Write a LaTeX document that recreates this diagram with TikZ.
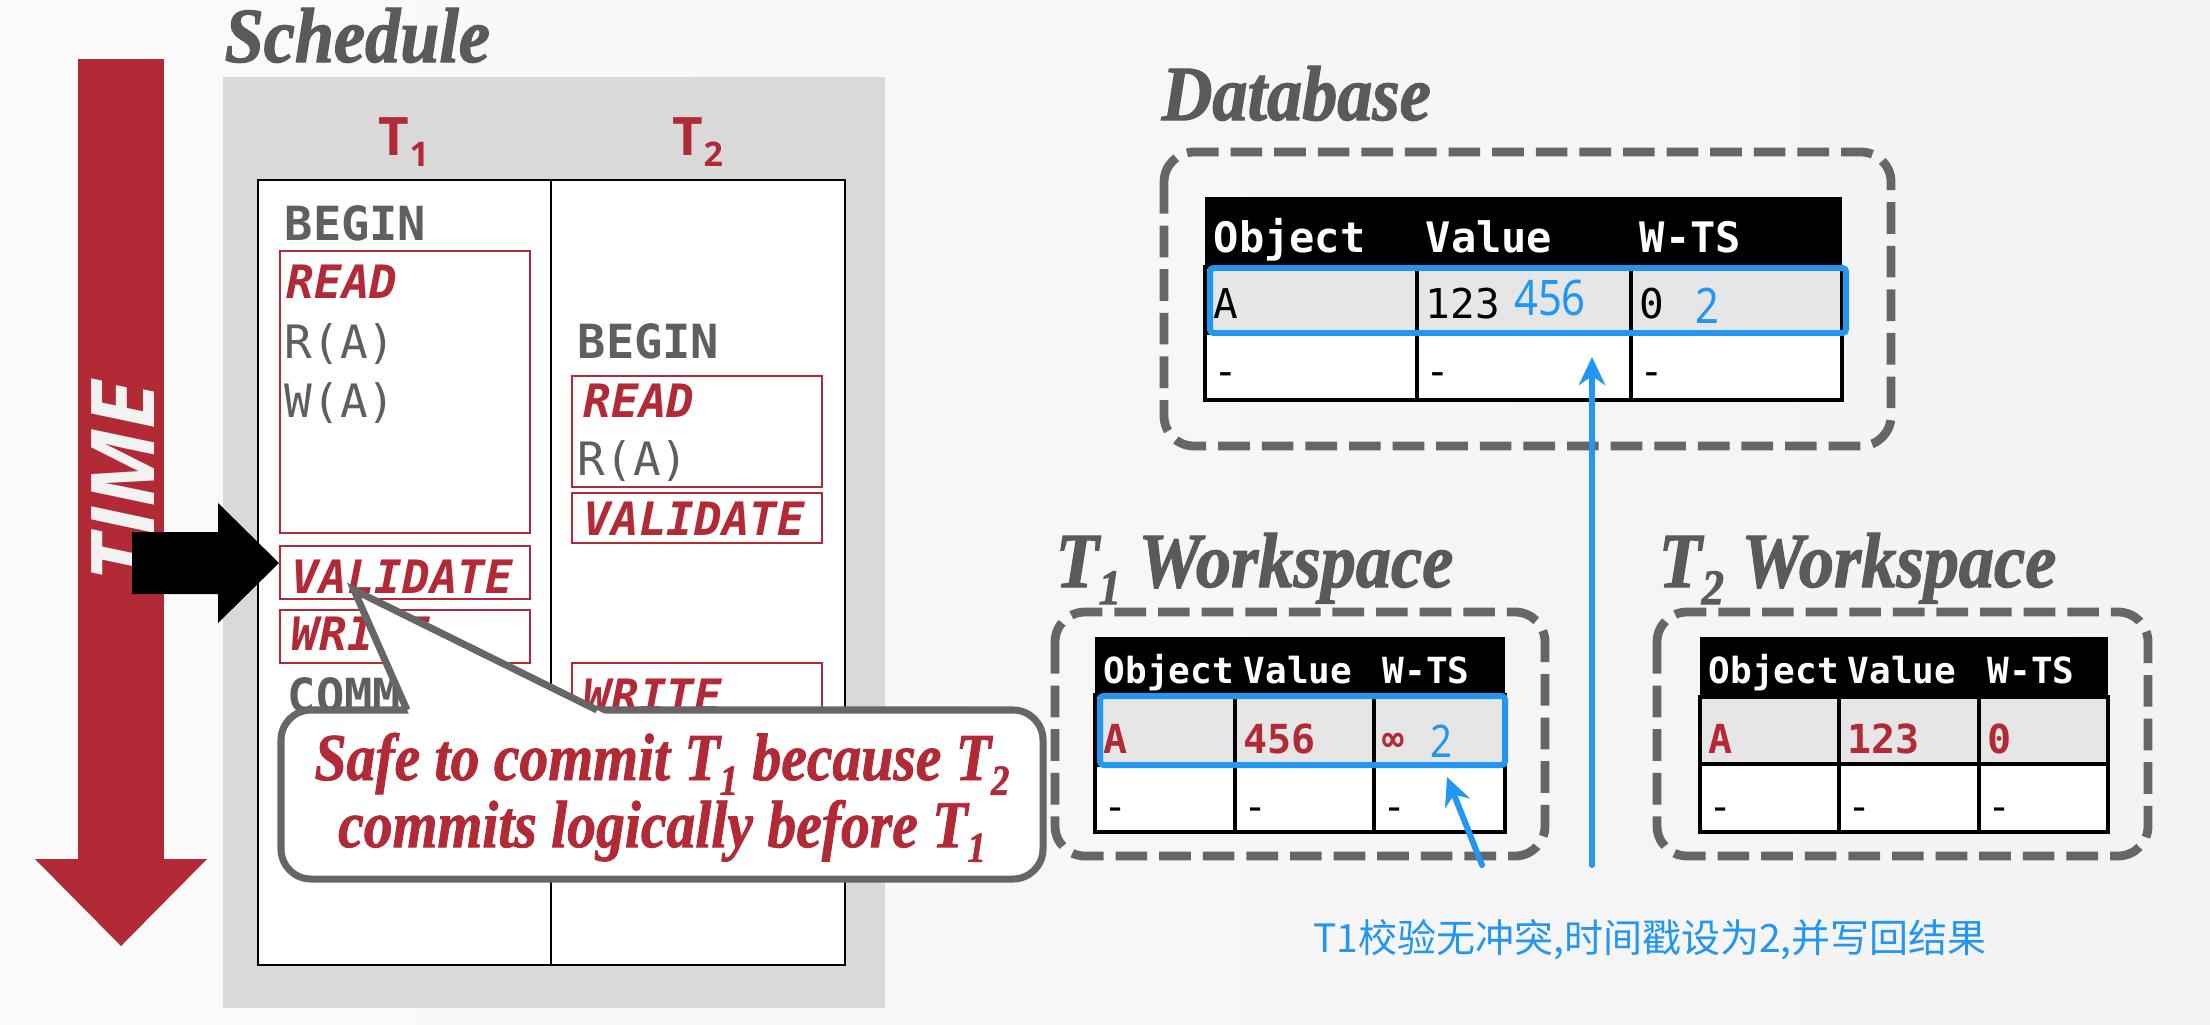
\documentclass[tikz,border=0pt]{standalone}
\usepackage{fontspec}
\usepackage{graphicx}
\usetikzlibrary{arrows.meta}
\setmonofont{DejaVu Sans Mono}[BoldFont={DejaVu Sans Mono Bold},ItalicFont={DejaVu Sans Mono Oblique},BoldItalicFont={DejaVu Sans Mono Bold Oblique}]
\newfontfamily\titlefont[FakeStretch=0.9,FakeBold=1.5]{Liberation Serif}
\newfontfamily\notefont[FakeStretch=0.86,FakeBold=1.2]{Liberation Serif}
\newfontfamily\labelfont{Open Sans}
\newfontfamily\numfont[FakeStretch=0.85]{Noto Sans}
\newfontfamily\cjkfont{Noto Sans CJK SC}
\definecolor{cmured}{RGB}{178,42,54}
\definecolor{textgray}{RGB}{95,95,95}
\definecolor{titlegray}{RGB}{90,90,90}
\definecolor{boxgray}{RGB}{217,217,217}
\definecolor{dashgray}{RGB}{102,102,102}
\definecolor{rowgray}{RGB}{230,230,230}
\definecolor{noteblue}{RGB}{33,150,243}
\definecolor{timewhite}{RGB}{242,242,242}
\definecolor{bgleft}{RGB}{251,251,251}
\definecolor{bgright}{RGB}{243,243,243}
% font size in pixels of the picture
\newcommand\px[1]{\fontsize{\dimexpr #1pt*2845/10000\relax}{\dimexpr #1pt*3414/10000\relax}\selectfont}
\newcommand\tsub[1]{\raisebox{-.22em}{\scalebox{.64}{#1}}}
\tikzset{
  heading/.style={anchor=base west, inner sep=0pt, text=titlegray, font=\titlefont\bfseries\itshape\px{78}},
  txnlabel/.style={anchor=base, inner sep=0pt, text=cmured, font=\labelfont\bfseries\px{53}},
  redbox/.style={draw=cmured, line width=0.7pt},
  optext/.style={anchor=base west, inner sep=0pt, text=textgray, font=\ttfamily\px{46}},
  opbold/.style={anchor=base west, inner sep=0pt, text=textgray, font=\ttfamily\bfseries\px{47}},
  phase/.style={anchor=base west, inner sep=0pt, text=cmured, font=\ttfamily\bfseries\itshape\px{46}},
  notetext/.style={anchor=base, inner sep=0pt, text=cmured, font=\notefont\bfseries\itshape\px{67}},
  callout/.style={draw=dashgray, fill=white, line width=2pt, rounded corners=0.3cm},
  dashbox/.style={draw=dashgray, line width=2.5pt, dash pattern=on 9pt off 3.4pt, rounded corners=0.3cm},
  cell/.style={draw=black, line width=0.9pt},
  dbhead/.style={anchor=base west, inner sep=0pt, text=white, font=\ttfamily\bfseries\px{42}},
  dbcell/.style={anchor=base west, inner sep=0pt, text=black, font=\ttfamily\px{41}},
  wshead/.style={anchor=base west, inner sep=0pt, text=white, font=\ttfamily\bfseries\px{36}},
  wscell/.style={anchor=base west, inner sep=0pt, text=cmured, font=\ttfamily\bfseries\px{40}},
  wsdash/.style={anchor=base west, inner sep=0pt, text=black, font=\ttfamily\px{40}},
  hilite/.style={draw=noteblue, line width=1.7pt, rounded corners=1pt},
  bluenum/.style={inner sep=0pt, text=noteblue, font=\numfont\px{#1}},
  bluearrow/.style={draw=noteblue, line width=1.7pt, line cap=round, -{Stealth[length=8pt,width=7.5pt]}},
}

\begin{document}
\begin{tikzpicture}[x=0.01cm,y=-0.01cm]
  \useasboundingbox (0,0) rectangle (2210,1024);
  \shade[left color=bgleft, right color=bgright] (0,0) rectangle (2210,1024);

  % Time arrow
  \fill[cmured] (78,59) rectangle (164,860);
  \fill[cmured] (35,859) -- (207,859) -- (121,946) -- cycle;
  \node[rotate=90, inner sep=0pt, text=timewhite, font=\labelfont\bfseries\itshape\px{88}] (time) at (123,482) {TIME};

  % Schedule
  \node[heading] (sched) at (224,62) {Schedule};
  \fill[boxgray] (223,77) rectangle (885,1008);
  \node[txnlabel] (t1) at (404,155) {T\tsub{1}};
  \node[txnlabel] (t2) at (698,155) {T\tsub{2}};
  \draw[fill=white, line width=0.8pt] (258,180) rectangle (845,965);
  \draw[line width=0.8pt] (551,180) -- (551,965);

  % T1 column
  \draw[redbox] (280,251) rectangle (530,533);
  \draw[redbox] (280,546) rectangle (530,599);
  \draw[redbox] (280,610) rectangle (530,663);
  \node[opbold] (begin1) at (284,240) {BEGIN};
  \node[phase] (read1) at (286,298) {READ};
  \node[optext] (ra1) at (284,358) {R(A)};
  \node[optext] (wa1) at (284,417) {W(A)};
  \node[phase] (val1) at (291,593) {VALIDATE};
  \node[phase] (write1) at (291,650) {WRITE};
  \node[opbold] (commit1) at (287,712) {COMMIT};

  % T2 column
  \draw[redbox] (572,376) rectangle (822,487);
  \draw[redbox] (572,493) rectangle (822,543);
  \draw[redbox] (572,663) rectangle (822,716);
  \node[opbold] (begin2) at (577,358) {BEGIN};
  \node[phase] (read2) at (583,417) {READ};
  \node[optext] (ra2) at (577,475) {R(A)};
  \node[phase] (val2) at (583,535) {VALIDATE};
  \node[phase] (write2) at (583,712) {WRITE};

  % Current step marker
  \fill[black] (132,532) -- (218,532) -- (218,503) -- (279,563) -- (218,623) -- (218,594) -- (132,594) -- cycle;

  % Callout
  \coordinate (tip) at (354,590);
  \draw[callout] (281,710) rectangle (1043,879);
  \fill[white] (tip) -- (409,714) -- (605,714) -- cycle;
  \draw[dashgray, line width=2pt] (407,710) -- (tip) -- (597,710);
  \node[notetext] (note) at (662,780) {\vtop{\baselineskip=19.1pt\lineskiplimit=-100pt
    \hbox to 7.2cm{\hss Safe to commit T\tsub{1} because T\tsub{2}\hss}
    \hbox to 7.2cm{\hss commits logically before T\tsub{1}\hss}}};

  % Database
  \node[heading] (dbtitle) at (1161,120) {Database};
  \draw[dashbox] (1164,152) rectangle (1891,446);
  \fill[black] (1205,197) rectangle (1842,267);
  \draw[cell, fill=rowgray] (1205,267) rectangle (1842,333);
  \draw[cell, fill=white] (1205,333) rectangle (1842,400);
  \draw[cell] (1417,267) -- (1417,400) (1631,267) -- (1631,400);
  \node[dbhead] (dbobj) at (1213,252) {Object};
  \node[dbhead] (dbval) at (1425,252) {Value};
  \node[dbhead] (dbwts) at (1639,252) {W-TS};
  \node[dbcell] (dba) at (1213,318) {A};
  \node[dbcell] (dbold) at (1425,318) {123};
  \node[dbcell] (dbts) at (1639,318) {0};
  \node[dbcell] (dbd1) at (1213,385) {-};
  \node[dbcell] (dbd2) at (1425,385) {-};
  \node[dbcell] (dbd3) at (1639,385) {-};
  \draw[hilite] (1210,268) rectangle (1846,333);
  \node[bluenum=49] (dbnew) at (1550,298) {456};
  \node[bluenum=49] (dbnewts) at (1707,306) {2};

  % T1 workspace
  \node[heading] (ws1title) at (1055,587) {T\tsub{1} Workspace};
  \draw[dashbox] (1055,612) rectangle (1545,856);
  \fill[black] (1095,637) rectangle (1505,695);
  \draw[cell, fill=rowgray] (1095,695) rectangle (1505,765);
  \draw[cell, fill=white] (1095,765) rectangle (1505,832);
  \draw[cell] (1235,695) -- (1235,832) (1374,695) -- (1374,832);
  \node[wshead] (ws1obj) at (1103,683) {Object};
  \node[wshead] (ws1val) at (1243,683) {Value};
  \node[wshead] (ws1wts) at (1382,683) {W-TS};
  \node[wscell] (ws1a) at (1103,753) {A};
  \node[wscell] (ws1v) at (1243,753) {456};
  \node[wscell, font=\ttfamily\bfseries\px{36}] (ws1inf) at (1382,751) {∞};
  \node[wsdash] (ws1d1) at (1103,820) {-};
  \node[wsdash] (ws1d2) at (1243,820) {-};
  \node[wsdash] (ws1d3) at (1382,820) {-};
  \draw[hilite] (1100,696) rectangle (1505,765);
  \node[bluenum=45] (ws1ts) at (1441,741) {2};

  % T2 workspace
  \node[heading] (ws2title) at (1658,587) {T\tsub{2} Workspace};
  \draw[dashbox] (1657,612) rectangle (2148,856);
  \fill[black] (1700,637) rectangle (2108,697);
  \draw[cell, fill=rowgray] (1700,697) rectangle (2108,764);
  \draw[cell, fill=white] (1700,764) rectangle (2108,832);
  \draw[cell] (1839,697) -- (1839,832) (1979,697) -- (1979,832);
  \node[wshead] (ws2obj) at (1708,683) {Object};
  \node[wshead] (ws2val) at (1847,683) {Value};
  \node[wshead] (ws2wts) at (1987,683) {W-TS};
  \node[wscell] (ws2a) at (1708,753) {A};
  \node[wscell] (ws2v) at (1847,753) {123};
  \node[wscell] (ws2t) at (1987,753) {0};
  \node[wsdash] (ws2d1) at (1708,820) {-};
  \node[wsdash] (ws2d2) at (1847,820) {-};
  \node[wsdash] (ws2d3) at (1987,820) {-};

  % Write back note
  \node[inner sep=0pt, text=noteblue, font=\cjkfont\px{39}] (msg) at (1650,940) {T1校验无冲突,时间戳设为2,并写回结果};
  \coordinate (from1) at (1592,865);
  \coordinate (to1) at (1592,357);
  \coordinate (from2) at (1482,865);
  \coordinate (to2) at (1447,777);
  \draw[bluearrow] (from1) -- (to1);
  \draw[bluearrow] (from2) -- (to2);
\end{tikzpicture}
\end{document}
